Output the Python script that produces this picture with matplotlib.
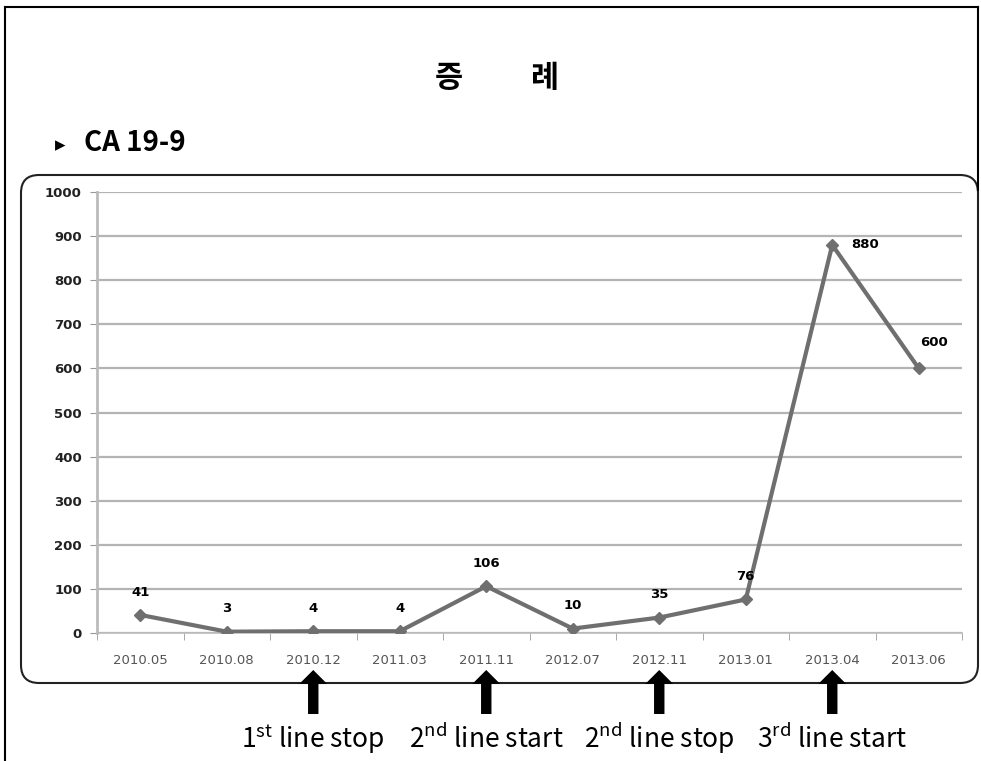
import matplotlib
matplotlib.use("Agg")
import matplotlib.pyplot as plt
from matplotlib.patches import FancyBboxPatch
from matplotlib.lines import Line2D
import numpy as np

plt.rcParams['font.family'] = ['Noto Sans CJK KR', 'DejaVu Sans']
plt.rcParams['mathtext.fontset'] = 'custom'
plt.rcParams['mathtext.rm'] = 'Noto Sans CJK KR'

# ---- data ----
title = "증\u3000\u3000 례"
subtitle = "CA 19-9"
dates = ["2010.05", "2010.08", "2010.12", "2011.03", "2011.11",
         "2012.07", "2012.11", "2013.01", "2013.04", "2013.06"]
values = [41, 3, 4, 4, 106, 10, 35, 76, 880, 600]
yticks = [0, 100, 200, 300, 400, 500, 600, 700, 800, 900, 1000]
event_dates = ["2010.12", "2011.11", "2012.11", "2013.04"]
event_labels = ["1$^{\\rm st}$ line stop", "2$^{\\rm nd}$ line start",
                "2$^{\\rm nd}$ line stop", "3$^{\\rm rd}$ line start"]

W, H = 981, 761
fig = plt.figure(figsize=(W / 100, H / 100), dpi=100)

# background axes in pixel coordinates
bg = fig.add_axes([0, 0, 1, 1])
bg.set_xlim(0, W)
bg.set_ylim(H, 0)
bg.axis('off')

# outer frame
bg.add_line(Line2D([5, 5], [7, H], color='black', lw=1.5))
bg.add_line(Line2D([5, 978], [7, 7], color='black', lw=1.5))
bg.add_line(Line2D([978, 978], [7, 190], color='black', lw=1.5))

# rounded chart box
box = FancyBboxPatch((21, 175), 957, 508, boxstyle="round,pad=0,rounding_size=18",
                     fc='white', ec='#222222', lw=1.5, zorder=1)
bg.add_patch(box)

# title texts
bg.text(497, 78, title, ha='center', va='center', fontsize=22, fontweight='bold')
bg.text(60, 145, "\u25B8", ha='center', va='center', fontsize=15,
        family=['DejaVu Sans'])
bg.text(84, 143, subtitle, ha='left', va='center', fontsize=20, fontweight='bold')

# main plot axes
ax = fig.add_axes([97 / W, 1 - 633 / H, 865 / W, 441 / H])
ax.set_zorder(2)
ax.patch.set_alpha(0)
x = np.arange(len(dates))
ax.plot(x, values, color='#6f6f6f', lw=3, marker='D', markersize=6,
        markerfacecolor='#6f6f6f', markeredgecolor='#6f6f6f', zorder=3)
ax.set_xlim(-0.5, len(dates) - 0.5)
ax.set_ylim(0, 1000)
ax.set_yticks(yticks)
ax.set_yticklabels([str(v) for v in yticks], fontsize=9.5, fontweight='bold',
                   family='DejaVu Sans', color='#222222')
ax.set_xticks(x)
ax.set_xticklabels(dates, fontsize=9.5, family='DejaVu Sans', color='#555555')
ax.set_xticks(np.arange(-0.5, len(dates)), minor=True)
ax.tick_params(axis='x', which='major', length=0, pad=15)
ax.tick_params(axis='x', which='minor', length=5, color='#999999', direction='out')
ax.tick_params(axis='y', length=5, color='#999999', pad=6)
ax.yaxis.grid(True, color='#b4b4b4', lw=1.6)
ax.set_axisbelow(True)
for s in ['top', 'right']:
    ax.spines[s].set_visible(False)
ax.spines['left'].set_color('#bbbbbb')
ax.spines['left'].set_linewidth(2)
ax.spines['bottom'].set_color('#bbbbbb')
ax.spines['bottom'].set_linewidth(1.2)

# data labels
for xi, v in zip(x, values):
    if v == 880:
        ax.annotate(str(v), (xi, v), xytext=(14, 0), textcoords='offset points',
                    ha='left', va='center', fontsize=9.5, fontweight='bold',
                    family='DejaVu Sans')
    elif v == 600:
        ax.annotate(str(v), (xi, v), xytext=(11, 19), textcoords='offset points',
                    ha='center', va='center', fontsize=9.5, fontweight='bold',
                    family='DejaVu Sans')
    else:
        ax.annotate(str(v), (xi, v), xytext=(0, 16.5), textcoords='offset points',
                    ha='center', va='center', fontsize=9.5, fontweight='bold',
                    family='DejaVu Sans')

# event arrows and labels
for d, lab in zip(event_dates, event_labels):
    xi = dates.index(d)
    ax.annotate('', xy=(xi, 670), xycoords=(ax.transData, bg.transData),
                xytext=(xi, 714), textcoords=(ax.transData, bg.transData),
                arrowprops=dict(arrowstyle="simple,head_length=1.0,head_width=2.0,tail_width=0.75",
                                fc='black', ec='black', lw=0, mutation_scale=10,
                                shrinkA=0, shrinkB=0),
                annotation_clip=False)
    ax.annotate(lab, xy=(xi, 748), xycoords=(ax.transData, bg.transData),
                ha='center', va='baseline', fontsize=19, annotation_clip=False)

fig.savefig("out.png", dpi=100)
